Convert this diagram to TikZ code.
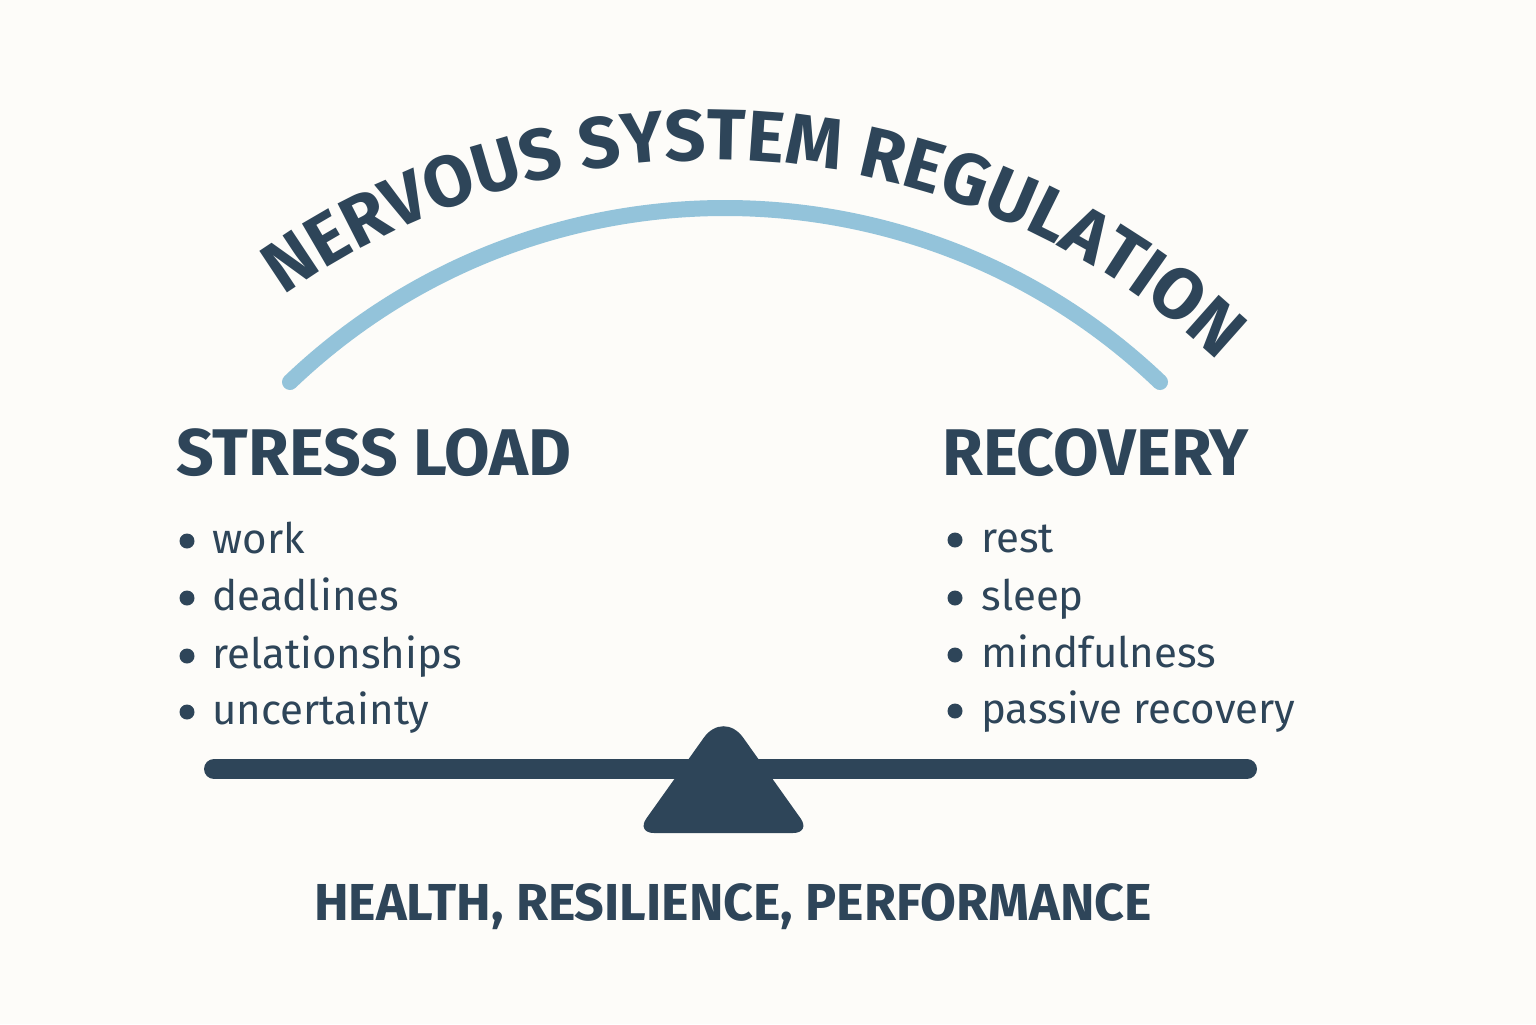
\documentclass[tikz,border=0pt]{standalone}
\usepackage{fontspec}
\setmainfont{Fira Sans}
\usetikzlibrary{decorations.text}
\definecolor{navy}{HTML}{2E4559}
\definecolor{skyarc}{HTML}{93C3DA}
\definecolor{paper}{HTML}{FDFCF9}
\newcommand\arctitlefont{\fontsize{36}{42}\selectfont\bfseries}
\tikzset{
  head/.style={anchor=base west, inner sep=0pt, text=navy, font=\fontsize{33}{38}\selectfont\bfseries},
  item/.style={anchor=base west, inner sep=0pt, text=navy, font=\fontsize{21}{26}\selectfont},
  dot/.style={circle, fill=navy, inner sep=0pt, minimum size=7.5pt},
}
\begin{document}
\begin{tikzpicture}[x=0.5pt,y=-0.5pt]
\fill[paper] (0,0) rectangle (1536,1024);
\useasboundingbox (0,0) rectangle (1536,1024);
% title on its arc
\path[decorate, decoration={text along path, text align=center, text color=navy,
  text={|\arctitlefont|NERVOUS SYSTEM REGULATION}}]
  (217.1,349.6) .. controls (527.6,70.0) and (1008.0,103.6) .. (1276.6,423.6);
\draw[skyarc, line width=8pt, line cap=round] (290,382) .. controls (533,150) and (917,150) .. (1160,382);
% the two sides
\node[head] (stress) at (176,475) {STRESS LOAD};
\node[head] (recovery) at (942,475) {RECOVERY};
\node[dot] (s1) at (187,541) {}; \node[item] (work) at (212,553) {work};
\node[dot] (s2) at (187,598) {}; \node[item] (deadlines) at (212,610) {deadlines};
\node[dot] (s3) at (187,656) {}; \node[item] (relations) at (212,668) {relationships};
\node[dot] (s4) at (187,712) {}; \node[item] (uncertain) at (212,724) {uncertainty};
\node[dot] (r1) at (955,540) {}; \node[item] (rest) at (981,552) {rest};
\node[dot] (r2) at (955,598) {}; \node[item] (sleep) at (981,610) {sleep};
\node[dot] (r3) at (955,655) {}; \node[item] (mindful) at (981,667) {mindfulness};
\node[dot] (r4) at (955,711) {}; \node[item] (passive) at (981,723) {passive recovery};
% seesaw
\draw[navy, line width=10pt, line cap=round] (214,769) -- (1247,769);
\fill[navy] (723.5,833) [rounded corners=9pt] -- (636,833) [rounded corners=17pt] -- (723.5,710)
  [rounded corners=9pt] -- (811,833) -- cycle;
\node[anchor=base, inner sep=0pt, text=navy, font=\fontsize{26}{31}\selectfont\bfseries]
  (outcome) at (733,920) {HEALTH, RESILIENCE, PERFORMANCE};
\end{tikzpicture}
\end{document}
